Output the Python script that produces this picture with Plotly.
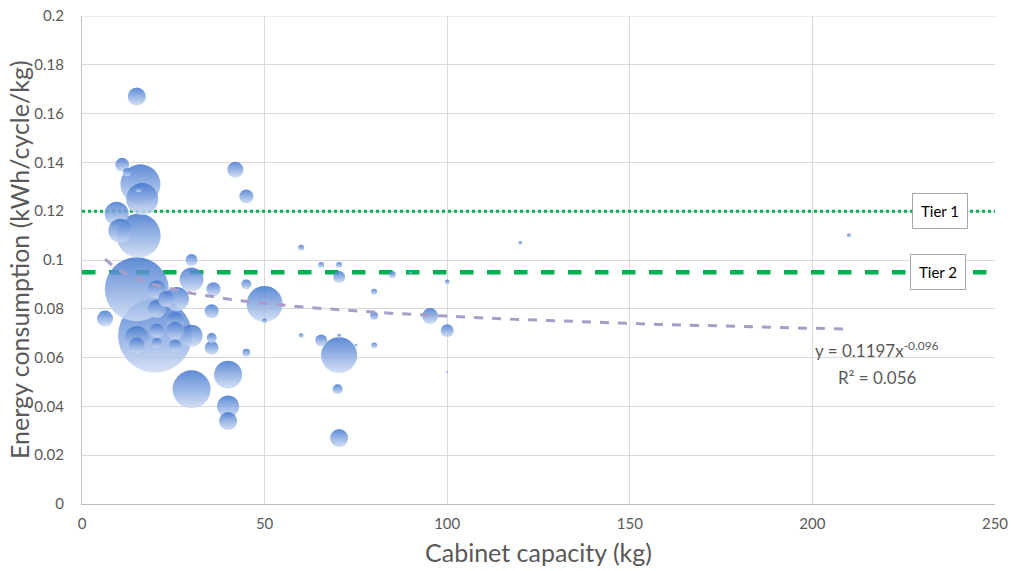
import plotly.graph_objects as go

# ---- data ----
capacity = [15, 11, 12.3, 16, 15.5, 16.5, 9.5, 10.5, 15.5, 42, 45, 30, 30, 36, 15, 20.5, 23, 26,
            20.5, 35.5, 6.3, 25.5, 20, 15, 20.5, 25.5, 30, 35.5, 35.5, 20.5, 25.5, 15, 30, 40,
            40, 40, 45, 45, 50, 50, 60, 65.5, 70.4, 70.4, 60, 65.5, 70.4, 70.4, 75, 70, 70.4,
            80, 80, 80, 85, 90, 95.3, 100, 100, 100, 120, 210]
energy = [0.167, 0.139, 0.136, 0.131, 0.129, 0.125, 0.119, 0.112, 0.110, 0.137, 0.126, 0.100,
          0.092, 0.088, 0.088, 0.088, 0.084, 0.084, 0.080, 0.079, 0.076, 0.075, 0.069, 0.068,
          0.071, 0.071, 0.069, 0.068, 0.064, 0.066, 0.065, 0.065, 0.047, 0.053, 0.040, 0.034,
          0.090, 0.062, 0.082, 0.075, 0.105, 0.098, 0.098, 0.093, 0.069, 0.067, 0.069, 0.061,
          0.065, 0.047, 0.027, 0.087, 0.077, 0.065, 0.094, 0.095, 0.077, 0.091, 0.071, 0.054,
          0.107, 0.110]
bubble_value = [81, 49, 16, 400, 9, 256, 144, 144, 484, 64, 49, 36, 144, 49, 1024, 81, 64, 144,
                81, 49, 64, 81, 1369, 144, 49, 81, 121, 25, 49, 25, 36, 64, 361, 196, 121, 81,
                25, 16, 324, 6, 9, 9, 9, 36, 6, 36, 4, 324, 2, 25, 81, 9, 16, 9, 12, 2, 64, 6,
                42, 1, 4, 4]

tier_names = ["Tier 1", "Tier 2"]
tier_values = [0.12, 0.095]
trend_a, trend_b = 0.1197, -0.096
trend_r2 = 0.056

x_ticks = [0, 50, 100, 150, 200, 250]
y_ticks = [0, 0.02, 0.04, 0.06, 0.08, 0.1, 0.12, 0.14, 0.16, 0.18, 0.2]
y_tick_text = ["0", "0.02", "0.04", "0.06", "0.08", "0.1", "0.12", "0.14", "0.16", "0.18", "0.2"]
x_title = "Cabinet capacity (kg)"
y_title = "Energy consumption (kWh/cycle/kg)"

FONT = "Lato, 'Open Sans', sans-serif"
GRAY = "#595959"

# order: biggest first so small bubbles stay visible
order = sorted(range(len(capacity)), key=lambda i: -bubble_value[i])

fig = go.Figure()

# tier lines
fig.add_trace(go.Scatter(x=[0, 250], y=[tier_values[0]] * 2, mode="lines",
                         line=dict(color="#00b050", width=3, dash="dot"),
                         hoverinfo="skip", showlegend=False))
fig.add_trace(go.Scatter(x=[0, 250], y=[tier_values[1]] * 2, mode="lines",
                         line=dict(color="#00b050", width=4.5, dash="dash"),
                         hoverinfo="skip", showlegend=False))

fig.add_trace(go.Scatter(
    x=[capacity[i] for i in order],
    y=[energy[i] for i in order],
    mode="markers",
    marker=dict(size=[bubble_value[i] for i in order], sizemode="area", sizeref=0.5,
                color="#4176ce", opacity=0.85,
                gradient=dict(type="vertical", color="#cddbf3"),
                line=dict(width=0)),
    showlegend=False))

# power trendline from the fitted equation
xmin, xmax = min(capacity), max(capacity)
n = 60
tx = [xmin + (xmax - xmin) * k / (n - 1) for k in range(n)]
ty = [trend_a * v ** trend_b for v in tx]
fig.add_trace(go.Scatter(x=tx, y=ty, mode="lines",
                         line=dict(color="#a99cc9", width=3, dash="dash"),
                         hoverinfo="skip", showlegend=False))

annotations = []
for name, val, xpos in zip(tier_names, tier_values, [235, 234.5]):
    annotations.append(dict(x=xpos, y=val, text=name, showarrow=False,
                            font=dict(family=FONT, size=15, color="#000000"),
                            bgcolor="white", bordercolor="#a6a6a6", borderwidth=1,
                            borderpad=8, xanchor="center", yanchor="middle"))
annotations.append(dict(x=217.7, y=0.0632, text=f"y = {trend_a}x<sup>{trend_b}</sup>",
                        showarrow=False, font=dict(family=FONT, size=17, color=GRAY),
                        xanchor="center", yanchor="middle"))
annotations.append(dict(x=217.7, y=0.052, text=f"R² = {trend_r2}",
                        showarrow=False, font=dict(family=FONT, size=17, color=GRAY),
                        xanchor="center", yanchor="middle"))
# axis titles
annotations.append(dict(x=0.5, y=0, xref="paper", yref="paper", text=x_title, showarrow=False,
                        font=dict(family=FONT, size=25, color=GRAY),
                        xanchor="center", yanchor="middle", yshift=-48))
annotations.append(dict(x=0, y=0.5, xref="paper", yref="paper", text=y_title, showarrow=False,
                        textangle=-90, font=dict(family=FONT, size=25, color=GRAY),
                        xanchor="center", yanchor="middle", xshift=-63))

# top border gridline at 0.2
shapes = [dict(type="line", xref="paper", yref="y", x0=0, x1=1, y0=0.2, y1=0.2,
               line=dict(color="#d9d9d9", width=1), layer="below")]

fig.update_layout(
    width=1011, height=571,
    margin=dict(l=82, r=16, t=16, b=67),
    paper_bgcolor="white", plot_bgcolor="white",
    font=dict(family=FONT, color=GRAY),
    annotations=annotations, shapes=shapes,
    xaxis=dict(range=[0, 250], tickvals=x_ticks, showgrid=True, gridcolor="#d9d9d9",
               zeroline=False, showline=True, linecolor="#bfbfbf", mirror=False,
               automargin=False, tickfont=dict(size=15, color=GRAY), ticklabelstandoff=6,
               ticklabeloverflow="allow"),
    yaxis=dict(range=[0, 0.2], tickvals=y_ticks, ticktext=y_tick_text, showgrid=True,
               gridcolor="#d9d9d9", zeroline=False, showline=True, linecolor="#bfbfbf",
               automargin=False, tickfont=dict(size=15, color=GRAY), ticklabelstandoff=14,
               ticklabeloverflow="allow"),
)

# remove the default 8px body margin so the figure fills the window exactly
fig.write_html("out.html", config={"displayModeBar": False},
               post_script="document.body.style.margin='0';document.body.style.overflow='hidden';")
